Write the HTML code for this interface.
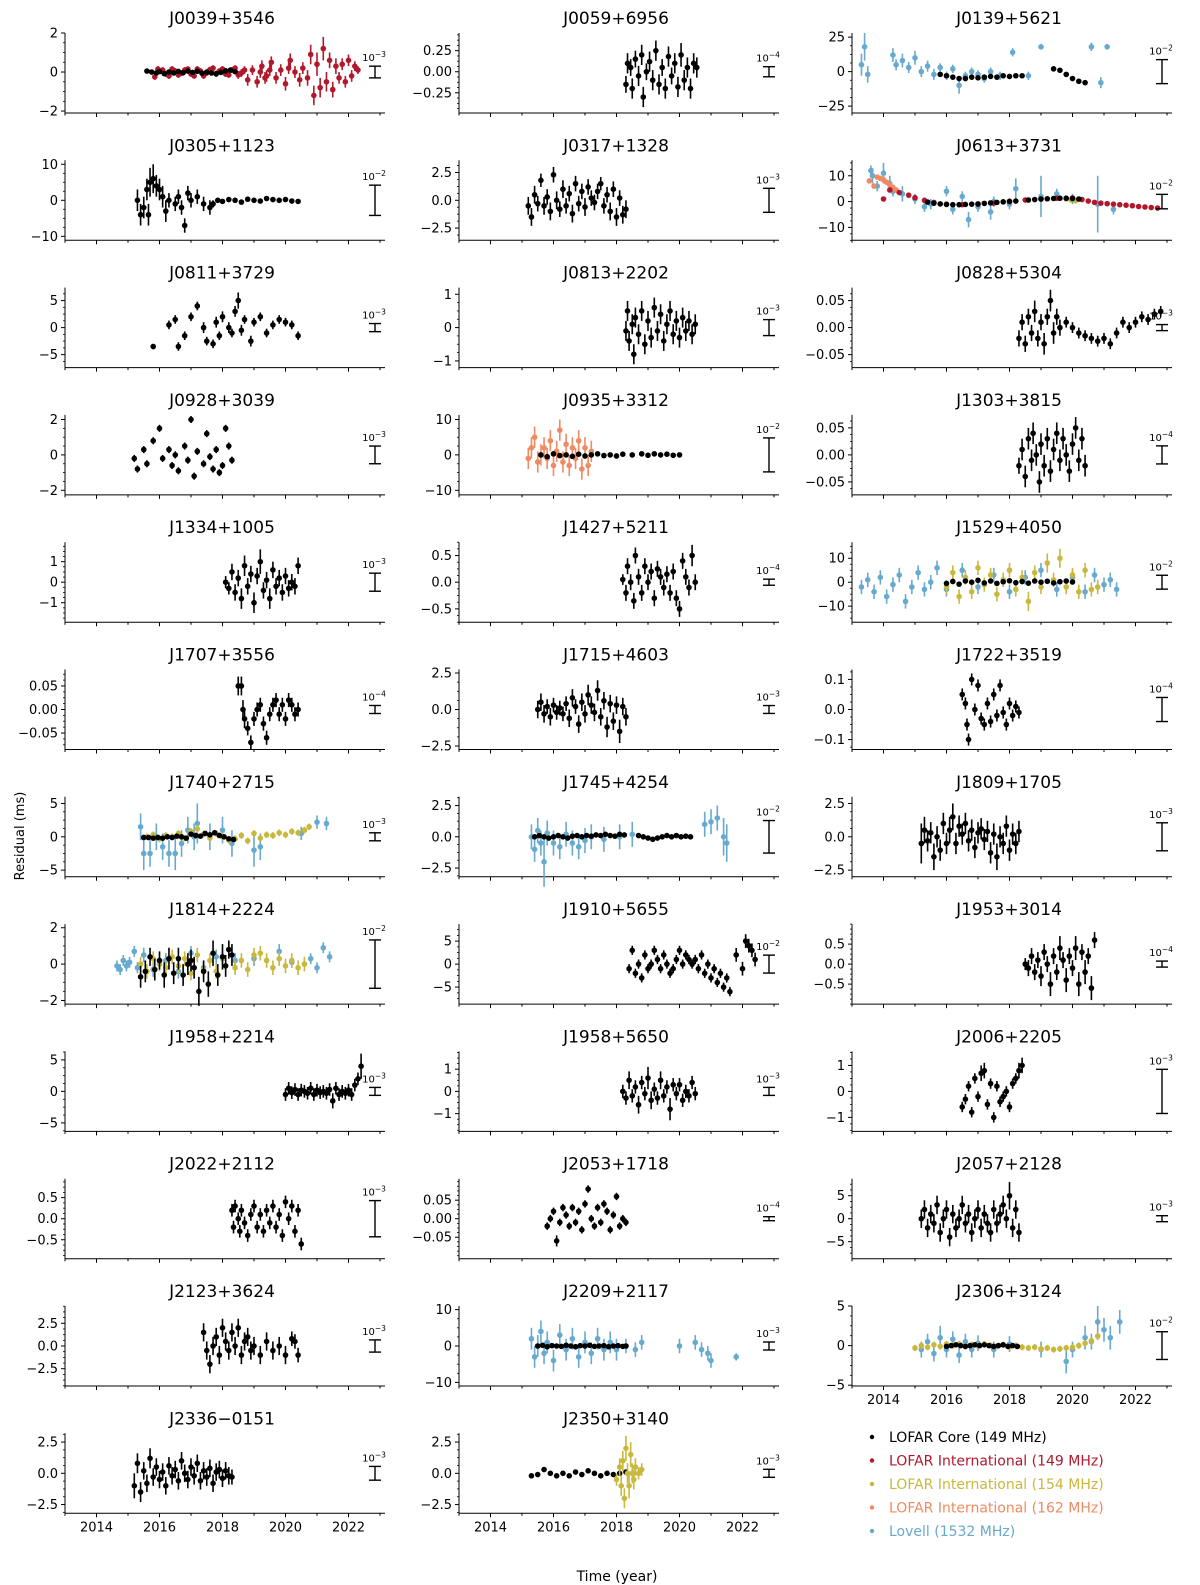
<!DOCTYPE html>
<html><head><meta charset="utf-8">
<style>
html,body{margin:0;padding:0;background:#fff;}
svg{display:block;font-family:"DejaVu Sans","Liberation Sans",sans-serif;}
</style></head>
<body>
<svg id="fig" width="1200" height="1585" viewBox="0 0 1200 1585" xmlns="http://www.w3.org/2000/svg">
<text x="24" y="836" font-size="13" text-anchor="middle" transform="rotate(-90 24 836)">Residual (ms)</text>
<text x="617" y="1581" font-size="14" text-anchor="middle">Time (year)</text>
<g font-size="14">
<g><circle cx="872" cy="1437" r="2.2" fill="#000"/><text x="889" y="1442" fill="#000">LOFAR Core (149 MHz)</text></g>
<g><circle cx="872" cy="1460.5" r="2.2" fill="#b2182b"/><text x="889" y="1465.5" fill="#b2182b">LOFAR International (149 MHz)</text></g>
<g><circle cx="872" cy="1484" r="2.2" fill="#c9b83e"/><text x="889" y="1489" fill="#c9b83e">LOFAR International (154 MHz)</text></g>
<g><circle cx="872" cy="1507.5" r="2.2" fill="#ef8a62"/><text x="889" y="1512.5" fill="#ef8a62">LOFAR International (162 MHz)</text></g>
<g><circle cx="872" cy="1531" r="2.2" fill="#67a9cf"/><text x="889" y="1536" fill="#67a9cf">Lovell (1532 MHz)</text></g>
</g>
</svg>
<script>
const panelNames=["J0039+3546","J0059+6956","J0139+5621","J0305+1123","J0317+1328","J0613+3731","J0811+3729","J0813+2202","J0828+5304","J0928+3039","J0935+3312","J1303+3815","J1334+1005","J1427+5211","J1529+4050","J1707+3556","J1715+4603","J1722+3519","J1740+2715","J1745+4254","J1809+1705","J1814+2224","J1910+5655","J1953+3014","J1958+2214","J1958+5650","J2006+2205","J2022+2112","J2053+1718","J2057+2128","J2123+3624","J2209+2117","J2306+3124","J2336\u22120151","J2350+3140"];
const yMins=[-2.1,-0.49,-30,-11.1,-3.6,-15,-7.4,-1.2,-0.074,-2.26,-11.3,-0.074,-1.95,-0.75,-16.7,-0.085,-2.74,-0.133,-6,-3.2,-3,-2.2,-8.7,-1,-6.35,-1.8,-1.54,-0.95,-0.108,-8.7,-4.4,-11,-5.1,-3.2,-3.2];
const yMaxs=[2.0,0.46,28,11.1,3.6,16,7.4,1.2,0.074,2.26,11.3,0.074,1.95,0.75,16.7,0.085,2.74,0.133,6,3.2,3,2.2,8.7,1,6.35,1.8,1.54,0.95,0.108,8.7,4.4,11,5,3.2,3.2];
const yTickVals=[[-2,0,2],[-0.25,0,0.25],[-25,0,25],[-10,0,10],[-2.5,0,2.5],[-10,0,10],[-5,0,5],[-1,0,1],[-0.05,0,0.05],[-2,0,2],[-10,0,10],[-0.05,0,0.05],[-1,0,1],[-0.5,0,0.5],[-10,0,10],[-0.05,0,0.05],[-2.5,0,2.5],[-0.1,0,0.1],[-5,0,5],[-2.5,0,2.5],[-2.5,0,2.5],[-2,0,2],[-5,0,5],[-0.5,0,0.5],[-5,0,5],[-1,0,1],[-1,0,1],[-0.5,0,0.5],[-0.05,0,0.05],[-5,0,5],[-2.5,0,2.5],[-10,0,10],[-5,0,5],[-2.5,0,2.5],[-2.5,0,2.5]];
const yTickLabels=[["\u22122","0","2"],["\u22120.25","0.00","0.25"],["\u221225","0","25"],["\u221210","0","10"],["\u22122.5","0.0","2.5"],["\u221210","0","10"],["\u22125","0","5"],["\u22121","0","1"],["\u22120.05","0.00","0.05"],["\u22122","0","2"],["\u221210","0","10"],["\u22120.05","0.00","0.05"],["\u22121","0","1"],["\u22120.5","0.0","0.5"],["\u221210","0","10"],["\u22120.05","0.00","0.05"],["\u22122.5","0.0","2.5"],["\u22120.1","0.0","0.1"],["\u22125","0","5"],["\u22122.5","0.0","2.5"],["\u22122.5","0.0","2.5"],["\u22122","0","2"],["\u22125","0","5"],["\u22120.5","0.0","0.5"],["\u22125","0","5"],["\u22121","0","1"],["\u22121","0","1"],["\u22120.5","0.0","0.5"],["\u22120.05","0.00","0.05"],["\u22125","0","5"],["\u22122.5","0.0","2.5"],["\u221210","0","10"],["\u22125","0","5"],["\u22122.5","0.0","2.5"],["\u22122.5","0.0","2.5"]];
const barExps=["\u22123","\u22124","\u22122","\u22122","\u22123","\u22122","\u22123","\u22123","\u22123","\u22123","\u22122","\u22124","\u22123","\u22124","\u22122","\u22124","\u22123","\u22124","\u22123","\u22122","\u22123","\u22122","\u22122","\u22124","\u22123","\u22123","\u22123","\u22123","\u22124","\u22123","\u22123","\u22123","\u22122","\u22123","\u22123"];
const barHalfVals=[0.3,0.06,8.7,4.2,1.08,2.8,0.75,0.24,0.0056,0.5,4.8,0.0167,0.44,0.057,2.9,0.0085,0.27,0.04,0.6,1.3,1.05,1.33,1.95,0.075,0.63,0.18,0.85,0.43,0.0054,0.65,0.67,1.1,1.75,0.55,0.32];
const yearTicks=[2013,2014,2015,2016,2017,2018,2019,2020,2021,2022,2023];
const yearLabels=["","2014","","2016","","2018","","2020","","2022",""];

const d_J0039_core=[[2015.6,0.05,.08],[2015.75,0,.08],[2015.9,-0.05,.08],[2016.0,0.02,.08],[2016.15,-0.08,.08],[2016.3,0,.08],[2016.45,-0.05,.08],[2016.6,0.03,.08],[2016.75,-0.04,.08],[2016.9,0.05,.08],[2017.05,-0.02,.08],[2017.2,0.04,.08],[2017.35,-0.06,.08],[2017.5,0,.08],[2017.65,-0.05,.08],[2017.8,-0.08,.08],[2017.95,-0.02,.08],[2018.1,0.06,.08],[2018.25,0.1,.08],[2018.4,0.02,.08]];
const d_J0039_red=[[2015.85,-0.25,.15],[2015.95,0.15,.15],[2016.1,0.1,.15],[2016.2,-0.1,.15],[2016.3,-0.2,.15],[2016.4,0.15,.15],[2016.5,0.05,.15],[2016.6,-0.15,.15],[2016.7,-0.05,.15],[2016.8,0.1,.15],[2016.9,0.15,.15],[2017.0,-0.1,.15],[2017.1,-0.2,.15],[2017.2,0.15,.15],[2017.3,0.05,.15],[2017.4,-0.2,.15],[2017.5,-0.05,.15],[2017.6,0.12,.15],[2017.7,0.2,.15],[2017.8,-0.1,.15],[2017.9,0.05,.15],[2018.0,0.15,.15],[2018.1,-0.1,.15],[2018.2,-0.15,.15],[2018.3,0.1,.15],[2018.4,0.2,.15],[2018.5,-0.15,.2],[2018.6,-0.05,.2],[2018.7,0.1,.2],[2018.8,-0.4,.3],[2018.95,0.1,.25],[2019.1,-0.5,.3],[2019.2,0,.3],[2019.25,0.3,.3],[2019.35,-0.3,.3],[2019.4,-0.2,.3],[2019.5,0.1,.3],[2019.55,0.5,.3],[2019.7,-0.3,.3],[2019.85,0.1,.3],[2020.0,-0.6,.35],[2020.1,0.2,.3],[2020.15,0.6,.35],[2020.3,0,.3],[2020.45,-0.4,.35],[2020.55,0.2,.3],[2020.7,-0.3,.4],[2020.8,0.9,.5],[2020.9,-1.2,.5],[2021.0,0.4,.6],[2021.1,-0.8,.5],[2021.2,1.2,.6],[2021.3,-0.5,.5],[2021.4,0.6,.4],[2021.5,-0.9,.4],[2021.6,0.3,.4],[2021.7,-0.3,.3],[2021.8,0.4,.3],[2021.9,-0.5,.3],[2022.0,0.6,.3],[2022.1,-0.2,.3],[2022.2,0.3,.25],[2022.3,0.1,.2]];
const d_J0059_core=[[2018.3,-0.15,.1],[2018.35,0.1,.12],[2018.45,0.05,.1],[2018.5,-0.2,.12],[2018.6,0.15,.1],[2018.7,-0.05,.12],[2018.8,0.2,.12],[2018.85,-0.3,.12],[2018.95,0,.1],[2019.05,0.12,.12],[2019.15,-0.1,.12],[2019.25,0.25,.12],[2019.35,-0.15,.12],[2019.45,0.05,.1],[2019.55,-0.2,.12],[2019.65,0.18,.12],[2019.75,-0.05,.1],[2019.85,0.1,.12],[2019.95,-0.18,.12],[2020.05,0.2,.14],[2020.15,-0.1,.12],[2020.25,0.05,.12],[2020.35,-0.2,.12],[2020.45,0.1,.12],[2020.55,0.05,.12]];
const d_J0139_lovell=[[2013.3,5,8],[2013.4,18,10],[2013.5,-2,6],[2014.3,12,5],[2014.4,5,4],[2014.6,8,5],[2014.8,3,4],[2015.0,10,5],[2015.2,0,4],[2015.4,4,4],[2015.6,-2,4],[2015.8,3,3],[2016.0,-3,3],[2016.2,2,3],[2016.4,-10,6],[2016.6,-3,3],[2016.8,0,3],[2017.0,-2,3],[2017.2,-5,3],[2017.4,0,3],[2017.7,-3,3],[2018.1,14,3],[2018.6,-3,3],[2019.0,18,2],[2020.6,18,3],[2020.9,-8,4],[2021.1,18,2]];
const d_J0139_core=[[2015.8,-2,1],[2016.0,-3,1],[2016.2,-4,1],[2016.4,-5,1],[2016.6,-5,1],[2016.8,-4,1],[2017.0,-4.5,1],[2017.2,-4,1],[2017.4,-3.5,1],[2017.6,-4,1],[2017.8,-3,1],[2018.0,-3.5,1],[2018.2,-3,1],[2018.4,-3,1],[2019.4,2,1],[2019.6,1,1],[2019.8,-2,1],[2020.0,-5,1],[2020.2,-7,1],[2020.4,-8,1]];
const d_J0305_core=[[2015.3,0,3],[2015.4,-4,3],[2015.5,-2,3],[2015.6,3,3],[2015.65,-4,3],[2015.7,5,4],[2015.8,6,4],[2015.9,4,3],[2016.0,3,3],[2016.1,1,3],[2016.2,-3,3],[2016.3,0,2],[2016.5,-1,2],[2016.6,1,2],[2016.7,-2,2],[2016.8,-7,2],[2016.9,2,2],[2017.0,0,2],[2017.2,1,2],[2017.4,-1,2],[2017.6,-2,2],[2017.7,-1,1],[2017.85,0,.6],[2018.0,-0.3,.6],[2018.2,0.2,.6],[2018.4,0,.6],[2018.6,-0.5,.6],[2018.8,0.3,.6],[2019.0,0,.6],[2019.2,-0.2,.6],[2019.4,0.5,.6],[2019.6,0.2,.6],[2019.8,0,.6],[2020.0,0.2,.6],[2020.2,-0.2,.6],[2020.4,-0.3,.6]];
const d_J0317_core=[[2015.2,-0.5,.8],[2015.3,-1.5,.8],[2015.4,0.5,.8],[2015.5,-0.3,.7],[2015.6,1.8,.6],[2015.7,-0.5,.8],[2015.8,0.3,.7],[2015.9,-1,.8],[2016.0,2.3,.7],[2016.1,0,.8],[2016.2,-0.8,.7],[2016.3,1,.8],[2016.4,-0.5,.7],[2016.5,0.6,.7],[2016.6,-1.2,.8],[2016.7,1.5,.7],[2016.8,-0.3,.7],[2016.9,0.8,.7],[2017.0,-0.6,.8],[2017.1,1.2,.7],[2017.2,0.2,.7],[2017.3,-0.2,.7],[2017.4,0.8,.7],[2017.5,1.5,.6],[2017.6,-0.5,.7],[2017.7,0.5,.7],[2017.8,-1,.8],[2017.9,1,.7],[2018.0,-1.5,.8],[2018.1,0.2,.7],[2018.2,-1.3,.8],[2018.3,-0.8,.8]];
const d_J0613_lovell=[[2013.6,12,2],[2013.65,10,3],[2013.8,6,2],[2014.0,11,4],[2014.2,7,3],[2014.3,4,2],[2014.6,3,3],[2015.0,1,2],[2015.3,-2,2],[2015.5,-1,2],[2016.0,4,2],[2016.2,-3,2],[2016.5,2,2],[2016.7,-7,3],[2017.0,-2,2],[2017.4,-4,3],[2017.5,0,2],[2018.0,-1,2],[2018.2,5,4],[2019.0,2,8],[2019.5,3,2],[2020.0,1,2],[2020.8,-1,11],[2021.3,-3,2]];
const d_J0613_i162=[[2013.55,8,1],[2013.7,6,1],[2013.8,9.5,1],[2013.9,9,1],[2014.0,8.5,1],[2014.1,7.5,1],[2014.2,6.5,1],[2014.3,5.5,1],[2014.4,4.5,1]];
const d_J0613_i149=[[2014.0,1,.4],[2014.2,4.5,.4],[2014.5,3.5,.4],[2014.8,2.5,.4],[2015.0,1.5,.4],[2015.3,0.5,.4],[2015.6,-0.3,.4],[2016.0,-1,.4],[2016.5,-1.2,.4],[2017.0,-1,.4],[2017.5,-0.6,.4],[2018.0,0,.4],[2018.5,0.6,.4],[2019.0,1,.4],[2019.5,1.3,.4],[2020.0,1.4,.4],[2020.3,0.8,.4],[2020.5,0.2,.4],[2020.7,-0.3,.4],[2020.9,-0.6,.4],[2021.1,-0.8,.4],[2021.3,-1.0,.4],[2021.5,-1.2,.4],[2021.7,-1.4,.4],[2021.9,-1.6,.4],[2022.1,-1.9,.4],[2022.3,-2.1,.4],[2022.5,-2.3,.4],[2022.7,-2.5,.4]];
const d_J0613_i154=[[2019.8,1,.4],[2019.95,0.7,.4],[2020.1,0.3,.4]];
const d_J0613_core=[[2015.4,-0.2,.3],[2015.6,-0.6,.3],[2015.8,-0.9,.3],[2016.0,-1.1,.3],[2016.2,-1.2,.3],[2016.4,-1.2,.3],[2016.6,-1.1,.3],[2016.8,-1.0,.3],[2017.0,-0.9,.3],[2017.2,-0.7,.3],[2017.4,-0.5,.3],[2017.6,-0.3,.3],[2017.8,-0.1,.3],[2018.0,0.1,.3],[2018.2,0.2,.3],[2018.6,0.6,.3],[2018.8,0.8,.3],[2019.0,1.0,.3],[2019.2,1.1,.3],[2019.4,1.2,.3],[2019.6,1.3,.3],[2019.8,1.3,.3],[2020.0,1.2,.3],[2020.2,1.0,.3]];
const d_J0811_core=[[2015.8,-3.5,.5],[2016.3,0.5,.8],[2016.5,1.5,.8],[2016.6,-3.5,.8],[2016.8,-1.5,.8],[2017.0,2,.8],[2017.2,4,.8],[2017.4,0,1],[2017.5,-2.5,.8],[2017.7,-3,.8],[2017.8,1,1],[2017.9,-1.5,.8],[2018.0,2,1],[2018.2,0,1],[2018.3,-1,.8],[2018.4,3,1],[2018.5,5,1.5],[2018.6,-0.5,1],[2018.7,1.5,.8],[2018.9,-2.5,1],[2019.0,1,.8],[2019.2,2,.8],[2019.4,-1,.8],[2019.6,0.5,.8],[2019.8,1.5,.8],[2020.0,1,.8],[2020.2,0.5,.8],[2020.4,-1.5,.8]];
const d_J0813_core=[[2018.3,-0.1,.3],[2018.35,0.5,.3],[2018.4,-0.4,.3],[2018.5,0.1,.3],[2018.55,-0.8,.3],[2018.6,0.3,.3],[2018.7,-0.2,.3],[2018.8,0.5,.3],[2018.9,-0.5,.3],[2019.0,0.2,.3],[2019.1,-0.3,.3],[2019.2,0.6,.3],[2019.3,-0.1,.3],[2019.4,0.4,.3],[2019.5,-0.4,.3],[2019.6,0.1,.3],[2019.7,0.5,.3],[2019.8,-0.2,.3],[2019.9,0.2,.3],[2020.0,-0.3,.3],[2020.1,0.3,.3],[2020.2,-0.1,.3],[2020.3,0.2,.3],[2020.4,-0.2,.3],[2020.5,0.1,.3]];
const d_J0828_core=[[2018.3,-0.02,.015],[2018.4,0.01,.015],[2018.5,-0.03,.015],[2018.6,0.02,.015],[2018.7,-0.01,.015],[2018.8,0.03,.02],[2018.9,-0.02,.015],[2019.0,0.01,.015],[2019.1,-0.03,.02],[2019.2,0.02,.015],[2019.3,0.05,.02],[2019.4,-0.01,.02],[2019.5,0.02,.015],[2019.6,0.0,.015],[2019.8,0.01,.01],[2020.0,0,.01],[2020.2,-0.01,.01],[2020.4,-0.015,.01],[2020.6,-0.02,.01],[2020.8,-0.025,.01],[2021.0,-0.02,.01],[2021.2,-0.03,.01],[2021.4,-0.01,.01],[2021.6,0.01,.01],[2021.8,0,.01],[2022.0,0.01,.01],[2022.2,0.02,.01],[2022.4,0.015,.01],[2022.6,0.025,.01],[2022.8,0.03,.01]];
const d_J0928_core=[[2015.2,-0.2,.2],[2015.3,-0.8,.2],[2015.5,0.3,.2],[2015.6,-0.5,.2],[2015.8,0.8,.2],[2016.0,1.5,.2],[2016.1,-0.2,.2],[2016.3,0.3,.2],[2016.4,-0.6,.2],[2016.5,0,.2],[2016.6,-0.9,.2],[2016.8,0.5,.2],[2016.9,-0.3,.2],[2017.0,2,.2],[2017.1,-1.2,.2],[2017.2,0.2,.2],[2017.4,-0.5,.2],[2017.5,1.2,.2],[2017.6,-0.1,.2],[2017.7,-0.8,.2],[2017.8,0.3,.2],[2017.9,-1,.2],[2018.0,-0.6,.2],[2018.1,1.5,.2],[2018.2,0.5,.2],[2018.3,-0.3,.2]];
const d_J0935_i162=[[2015.2,-1,3],[2015.3,2,3],[2015.4,5,3],[2015.5,-2,3],[2015.6,0,3],[2015.7,2,3],[2015.8,-1,3],[2015.9,4,3],[2016.0,-3,3],[2016.1,1,3],[2016.2,7,3],[2016.3,-2,3],[2016.4,3,3],[2016.5,-3,3],[2016.6,2,3],[2016.7,-1,3],[2016.8,4,3],[2016.9,-4,3],[2017.0,2,3],[2017.1,-3,3],[2017.2,1,3]];
const d_J0935_core=[[2015.6,0,.5],[2015.8,-0.5,.5],[2016.0,0.3,.5],[2016.2,-0.2,.5],[2016.4,0,.5],[2016.6,-0.4,.5],[2016.8,0.2,.5],[2017.0,-0.3,.5],[2017.2,0,.5],[2017.4,0.3,.5],[2017.6,-0.2,.5],[2017.8,0,.5],[2018.0,-0.3,.5],[2018.2,0.2,.5],[2018.5,0,.5],[2018.8,0.3,.5],[2019.0,-0.1,.5],[2019.2,0.3,.5],[2019.4,0,.5],[2019.6,0.2,.5],[2019.8,-0.1,.5],[2020.0,0,.5]];
const d_J1303_core=[[2018.3,-0.02,.015],[2018.4,0.01,.02],[2018.5,-0.04,.02],[2018.6,0.03,.02],[2018.7,-0.01,.02],[2018.75,0.04,.02],[2018.85,0,.02],[2018.95,-0.05,.02],[2019.0,0.02,.02],[2019.1,-0.02,.02],[2019.2,0.03,.02],[2019.3,-0.03,.02],[2019.4,0.01,.02],[2019.5,0.04,.02],[2019.6,-0.01,.02],[2019.7,0.03,.02],[2019.8,0,.02],[2019.9,-0.03,.02],[2020.0,0.02,.02],[2020.1,0.05,.02],[2020.2,-0.01,.02],[2020.3,0.03,.02],[2020.4,-0.02,.02]];
const d_J1334_core=[[2018.1,0,.3],[2018.2,-0.3,.3],[2018.3,0.5,.4],[2018.4,-0.5,.4],[2018.5,0.2,.4],[2018.6,-0.8,.5],[2018.7,0.8,.5],[2018.8,-0.2,.4],[2018.9,0.4,.4],[2019.0,-1,.5],[2019.1,0.3,.4],[2019.2,1,.6],[2019.3,-0.4,.4],[2019.4,0.1,.4],[2019.5,-0.8,.5],[2019.6,0.6,.4],[2019.7,-0.2,.4],[2019.8,0.2,.4],[2019.9,-0.5,.4],[2020.0,0.3,.4],[2020.1,-0.3,.4],[2020.2,0,.4],[2020.3,-0.2,.4],[2020.4,0.8,.4]];
const d_J1427_core=[[2018.2,0.05,.1],[2018.3,-0.2,.15],[2018.35,0.3,.15],[2018.45,0,.15],[2018.55,-0.35,.15],[2018.6,0.5,.15],[2018.7,0.1,.15],[2018.8,-0.2,.15],[2018.9,0.3,.15],[2019.0,0,.15],[2019.1,0.2,.15],[2019.2,-0.3,.15],[2019.3,0.25,.15],[2019.4,0.1,.15],[2019.5,-0.1,.15],[2019.6,0.15,.15],[2019.7,-0.2,.15],[2019.8,0.2,.15],[2019.9,-0.3,.15],[2020.0,-0.5,.15],[2020.1,0.4,.15],[2020.2,0.1,.15],[2020.3,-0.1,.15],[2020.4,0.5,.2],[2020.5,0,.15]];
const d_J1529_lovell=[[2013.3,-2,3],[2013.5,1,3],[2013.7,-4,3],[2013.9,2,3],[2014.1,-6,3],[2014.3,-1,3],[2014.5,3,3],[2014.7,-8,3],[2014.9,-2,3],[2015.1,4,3],[2015.3,-3,3],[2015.5,0,3],[2015.7,6,3],[2016.0,-3,3],[2016.5,5,3],[2017.0,-2,3],[2017.5,3,3],[2018.0,-4,3],[2018.5,2,3],[2019.0,5,3],[2019.5,-3,3],[2020.0,2,3],[2020.4,-4,3],[2020.7,3,3],[2021.0,-1,3],[2021.2,1,3],[2021.4,-3,3]];
const d_J1529_i154=[[2016.0,-2,3],[2016.2,4,3],[2016.4,-6,3],[2016.6,2,3],[2016.8,-4,3],[2017.0,6,3],[2017.2,-1,3],[2017.4,3,3],[2017.6,-5,3],[2017.8,1,3],[2018.0,5,3],[2018.2,-3,3],[2018.4,2,3],[2018.6,-8,4],[2018.8,4,3],[2019.0,-2,3],[2019.2,8,4],[2019.4,1,3],[2019.6,10,4],[2019.8,-2,3],[2020.0,3,3],[2020.2,-4,3],[2020.4,5,3],[2020.6,-3,3],[2020.8,-2,3]];
const d_J1529_core=[[2016.0,-0.5,1],[2016.2,0.3,1],[2016.4,-0.8,1],[2016.6,0.5,1],[2016.8,0,1],[2017.0,0.8,1],[2017.2,-0.3,1],[2017.4,0.5,1],[2017.6,-0.5,1],[2017.8,0.2,1],[2018.0,0.6,1],[2018.2,-0.2,1],[2018.4,0.3,1],[2018.6,-0.4,1],[2018.8,0.5,1],[2019.0,0,1],[2019.2,0.4,1],[2019.4,-0.3,1],[2019.6,0.2,1],[2019.8,0.5,1],[2020.0,0.1,1]];
const d_J1707_core=[[2018.5,0.05,.02],[2018.6,0.05,.02],[2018.65,0,.02],[2018.7,-0.02,.02],[2018.8,-0.04,.015],[2018.9,-0.07,.015],[2019.0,-0.02,.015],[2019.1,0,.015],[2019.2,0.01,.015],[2019.3,-0.03,.015],[2019.4,-0.06,.015],[2019.5,-0.01,.015],[2019.6,0.01,.015],[2019.7,0.02,.015],[2019.8,-0.01,.015],[2019.9,0.01,.015],[2020.0,-0.02,.015],[2020.1,0.02,.015],[2020.2,0.01,.015],[2020.3,-0.01,.015],[2020.4,0,.015]];
const d_J1715_core=[[2015.5,0,.6],[2015.6,0.5,.6],[2015.7,-0.3,.6],[2015.8,0.2,.5],[2015.9,-0.5,.6],[2016.0,0.3,.5],[2016.1,-0.2,.5],[2016.2,0.1,.5],[2016.3,-0.3,.5],[2016.4,0.4,.5],[2016.5,-0.6,.6],[2016.6,0.8,.6],[2016.7,0.2,.5],[2016.8,-1,.6],[2016.9,0.5,.6],[2017.0,-0.3,.6],[2017.1,1,.7],[2017.2,0.3,.6],[2017.3,-0.2,.6],[2017.4,1.3,.7],[2017.5,-0.5,.6],[2017.6,0.6,.6],[2017.7,-1.2,.7],[2017.8,0.4,.6],[2017.9,-0.8,.6],[2018.0,0.3,.6],[2018.1,-1.5,.8],[2018.2,0.2,.6],[2018.3,-0.5,.6]];
const d_J1722_core=[[2016.5,0.05,.02],[2016.6,0.02,.02],[2016.65,-0.05,.02],[2016.7,-0.1,.02],[2016.8,0.1,.02],[2016.9,0,.02],[2017.0,0.08,.02],[2017.1,-0.03,.02],[2017.2,-0.05,.02],[2017.3,0.02,.02],[2017.4,-0.04,.02],[2017.5,0.05,.02],[2017.6,-0.02,.02],[2017.7,0.08,.02],[2017.8,-0.01,.02],[2017.9,-0.05,.02],[2018.0,0.02,.02],[2018.1,-0.02,.02],[2018.2,0.01,.02],[2018.3,-0.01,.02]];
const d_J1740_lovell=[[2015.4,1.5,2],[2015.5,-2.5,2.5],[2015.7,-2.5,2],[2015.9,0,2],[2016.1,-1.5,2],[2016.3,-2.5,2],[2016.5,-2.5,2.5],[2016.7,-1,2],[2016.9,1,2],[2017.1,0,2],[2017.2,2,3],[2017.6,0,2],[2018.0,1,2],[2018.3,-1,2],[2019.0,-2,2.5],[2019.2,-1.5,2],[2020.5,0.5,1],[2021.0,2.2,1],[2021.3,2,1]];
const d_J1740_i154=[[2015.6,0,.5],[2015.8,0.3,.5],[2016.0,-0.3,.5],[2016.2,0.2,.5],[2016.4,0,.5],[2016.6,0.5,.5],[2016.8,-0.2,.5],[2017.0,0.8,.5],[2017.2,1.2,.6],[2017.4,0.4,.5],[2017.6,-0.2,.5],[2017.8,0.5,.5],[2018.0,0,.5],[2018.2,-0.5,.5],[2018.4,-0.3,.5],[2018.6,0.2,.5],[2018.8,-0.6,.5],[2019.0,0.5,.5],[2019.2,-0.2,.5],[2019.4,0.3,.5],[2019.6,0.2,.5],[2019.8,0.6,.5],[2020.0,0.3,.5],[2020.2,0.8,.5],[2020.4,0.6,.5],[2020.6,1,.5],[2020.75,1.5,.5]];
const d_J1740_core=[[2015.5,-0.1,.2],[2015.65,-0.1,.2],[2015.8,-0.2,.2],[2015.95,-0.1,.2],[2016.1,-0.2,.2],[2016.25,0,.2],[2016.4,-0.1,.2],[2016.55,0.1,.2],[2016.7,0,.2],[2016.85,-0.2,.2],[2017.0,0.4,.2],[2017.15,0.2,.2],[2017.3,0.1,.2],[2017.45,0.5,.2],[2017.6,0.3,.2],[2017.75,0.6,.2],[2017.9,0.2,.2],[2018.05,0,.2],[2018.2,-0.3,.2],[2018.35,-0.4,.2]];
const d_J1745_lovell=[[2015.3,0,1],[2015.4,-1,1],[2015.5,0.5,1],[2015.6,-0.5,1],[2015.7,-2,2],[2015.8,0.3,1],[2016.0,-0.5,1],[2016.2,-0.8,1],[2016.4,0.2,1],[2016.6,-0.5,1],[2016.8,-0.8,1],[2017.0,-0.3,1],[2017.2,0,1],[2017.6,-0.2,1],[2018.1,0,1],[2018.5,0.2,1],[2020.8,1,1],[2021.0,1.2,1],[2021.2,1.5,1],[2021.4,0,1.5],[2021.5,-0.5,1.5]];
const d_J1745_core=[[2015.4,0,.15],[2015.55,0.1,.15],[2015.7,0,.15],[2015.85,-0.1,.15],[2016.0,0,.15],[2016.15,0.1,.15],[2016.3,0,.15],[2016.45,-0.1,.15],[2016.6,0.05,.15],[2016.75,0.1,.15],[2016.9,0,.15],[2017.05,0.1,.15],[2017.2,0.05,.15],[2017.35,0.15,.15],[2017.5,0.1,.15],[2017.65,0.2,.15],[2017.8,0.1,.15],[2017.95,0.05,.15],[2018.1,0.2,.15],[2018.25,0.15,.15],[2018.7,0.1,.15],[2018.85,0,.15],[2019.0,-0.1,.15],[2019.15,-0.2,.15],[2019.3,-0.1,.15],[2019.45,0,.15],[2019.6,0.1,.15],[2019.75,0,.15],[2019.9,0.1,.15],[2020.05,0,.15],[2020.2,0.05,.15],[2020.35,0,.15]];
const d_J1809_core=[[2015.2,-0.5,1.5],[2015.3,0.5,1],[2015.4,-0.3,.8],[2015.5,0.3,.8],[2015.6,-1.5,1],[2015.7,0,.8],[2015.8,-1,.8],[2015.9,1,.8],[2016.0,-0.5,.8],[2016.1,0.5,1],[2016.2,1.5,1],[2016.3,-0.5,.8],[2016.4,0.8,.8],[2016.5,0.2,.8],[2016.6,1,.8],[2016.7,-0.3,.8],[2016.8,0.5,.8],[2016.9,-0.8,.8],[2017.0,0.3,.8],[2017.1,0.6,.8],[2017.2,-0.2,.8],[2017.3,0.4,.8],[2017.4,-1.2,.8],[2017.5,0.2,.8],[2017.6,-1.5,1],[2017.7,0,.8],[2017.8,-0.5,.8],[2017.9,0.8,.8],[2018.0,-1,.8],[2018.1,0.2,.8],[2018.2,-0.5,.8],[2018.3,0.4,.8]];
const d_J1814_lovell=[[2014.65,-0.1,.3],[2014.75,-0.3,.3],[2014.85,0.2,.3],[2014.95,-0.1,.3],[2015.05,0.1,.3],[2015.2,0.7,.3],[2015.3,-0.2,.3],[2015.5,0.5,.4],[2015.8,-0.3,.4],[2016.2,0.2,.4],[2016.6,-0.4,.4],[2017.0,0.6,.4],[2017.4,-0.2,.4],[2017.8,0.4,.4],[2018.4,0.2,.4],[2019.0,0.3,.4],[2019.8,0.7,.4],[2020.2,0.1,.3],[2020.8,0.3,.3],[2021.0,-0.2,.3],[2021.2,0.9,.3],[2021.4,0.4,.3]];
const d_J1814_i154=[[2015.4,0,.4],[2015.6,-0.4,.4],[2015.8,0.3,.4],[2016.0,0,.4],[2016.2,-0.2,.4],[2016.4,0.4,.4],[2016.6,-0.1,.4],[2016.8,0.3,.4],[2017.0,-0.5,.4],[2017.2,0.5,.4],[2017.4,-0.3,.4],[2017.6,0.2,.4],[2017.8,-0.4,.4],[2018.0,0.3,.4],[2018.2,0.8,.4],[2018.4,-0.2,.4],[2018.6,0.2,.4],[2018.8,-0.3,.4],[2019.0,0.5,.4],[2019.2,0.6,.4],[2019.4,0.2,.4],[2019.6,-0.2,.4],[2019.8,0.3,.4],[2020.0,-0.1,.4],[2020.2,0.2,.4],[2020.4,-0.2,.4],[2020.6,0,.4]];
const d_J1814_core=[[2015.4,-0.7,.6],[2015.55,-0.4,.6],[2015.7,0.4,.5],[2015.85,-0.3,.6],[2016.0,0.2,.5],[2016.15,-0.6,.7],[2016.3,0.3,.6],[2016.45,-0.5,.6],[2016.6,0.3,.6],[2016.75,-0.6,.6],[2016.9,0,.6],[2017.0,0.2,.6],[2017.1,-0.2,.6],[2017.25,-1.5,.8],[2017.4,-0.4,.6],[2017.55,-1.1,.7],[2017.7,0.6,.7],[2017.85,-0.6,.6],[2018.0,0.4,.7],[2018.1,-0.1,.6],[2018.2,0.8,.5],[2018.3,0.5,.6]];
const d_J1910_core=[[2018.4,-1,1],[2018.5,3,1],[2018.6,-2,1],[2018.7,0,1],[2018.8,-3,1],[2018.9,2,1],[2019.0,-1,1],[2019.1,0,1],[2019.2,3,1],[2019.3,1,1],[2019.4,-1,1],[2019.5,2,1],[2019.6,0,1],[2019.7,-2,1],[2019.8,-1,1],[2019.9,1,1],[2020.0,3,1],[2020.1,0,1],[2020.2,2,1],[2020.3,1,1],[2020.4,0,1],[2020.5,1,1],[2020.6,-1,1],[2020.7,2,1],[2020.8,-2,1],[2020.9,0,1],[2021.0,-3,1],[2021.1,-1,1],[2021.2,-4,1],[2021.3,-2,1],[2021.4,-5,1],[2021.5,-3,1],[2021.6,-6,1],[2021.8,2,1.5],[2022.0,-1,1.5],[2022.1,5,1.5],[2022.2,4,1.5],[2022.3,3,1.5],[2022.4,1,1.5]];
const d_J1953_core=[[2018.5,0,.15],[2018.6,-0.1,.2],[2018.7,0.2,.2],[2018.8,-0.2,.2],[2018.9,0.1,.2],[2019.0,-0.3,.25],[2019.1,0.3,.2],[2019.2,0,.2],[2019.3,-0.5,.3],[2019.4,0.2,.2],[2019.5,-0.2,.2],[2019.6,0.4,.3],[2019.7,0.1,.2],[2019.8,-0.4,.3],[2019.9,0.2,.2],[2020.0,-0.1,.2],[2020.1,0.4,.3],[2020.2,-0.5,.3],[2020.3,0.3,.2],[2020.4,-0.2,.3],[2020.5,0.2,.2],[2020.6,-0.6,.3],[2020.7,0.6,.2]];
const d_J1958a_core=[[2020.0,-0.5,1],[2020.1,0.5,1],[2020.2,-0.2,1],[2020.3,0.3,1],[2020.4,-0.5,1],[2020.5,0.2,1],[2020.6,0,1],[2020.7,-0.3,1],[2020.8,0.5,1],[2020.9,-0.5,1],[2021.0,0.2,1],[2021.1,-0.2,1],[2021.2,0,1],[2021.3,-0.3,1],[2021.4,0.3,1],[2021.5,-1.5,1.2],[2021.6,0.5,1],[2021.7,-0.5,1],[2021.8,0,1],[2021.9,-0.3,1],[2022.0,0.2,1],[2022.1,-0.5,1],[2022.2,1,1],[2022.3,2,1],[2022.4,4,2]];
const d_J1958b_core=[[2018.2,0,.3],[2018.3,-0.3,.3],[2018.4,0.5,.4],[2018.5,-0.2,.3],[2018.6,0.2,.3],[2018.7,-0.6,.4],[2018.8,0.4,.3],[2018.9,-0.1,.3],[2019.0,0.6,.5],[2019.1,-0.4,.4],[2019.2,0.1,.3],[2019.3,-0.3,.3],[2019.4,0.5,.4],[2019.5,-0.2,.3],[2019.6,0.2,.3],[2019.7,-0.8,.5],[2019.8,0.3,.3],[2019.9,-0.1,.3],[2020.0,0.3,.3],[2020.1,-0.4,.3],[2020.2,0,.3],[2020.3,-0.2,.3],[2020.4,0.4,.3],[2020.5,-0.1,.3]];
const d_J2006_core=[[2016.5,-0.6,.2],[2016.6,-0.3,.2],[2016.7,0.2,.2],[2016.8,-0.8,.2],[2016.9,0.5,.2],[2017.0,-0.2,.2],[2017.1,0.7,.3],[2017.2,0.8,.3],[2017.3,-0.5,.2],[2017.4,0.3,.2],[2017.5,-1,.2],[2017.6,0.2,.2],[2017.7,-0.4,.2],[2017.8,-0.2,.2],[2017.9,0,.2],[2018.0,-0.6,.2],[2018.1,0.3,.2],[2018.2,0.5,.2],[2018.3,0.8,.3],[2018.4,1,.3]];
const d_J2022_core=[[2018.3,0.2,.15],[2018.35,-0.2,.15],[2018.4,0.3,.15],[2018.5,0,.15],[2018.55,-0.3,.15],[2018.6,0.2,.15],[2018.7,-0.1,.15],[2018.8,-0.4,.15],[2018.9,0.1,.15],[2019.0,0.3,.15],[2019.1,-0.2,.15],[2019.2,0.1,.15],[2019.3,-0.3,.15],[2019.4,0.2,.15],[2019.5,-0.1,.15],[2019.6,0.3,.15],[2019.7,-0.2,.15],[2019.8,0.1,.15],[2019.9,-0.4,.15],[2020.0,0.4,.15],[2020.1,0,.15],[2020.2,0.3,.15],[2020.3,-0.3,.15],[2020.4,0.2,.15],[2020.5,-0.6,.15]];
const d_J2053_core=[[2015.8,-0.02,.01],[2015.9,0,.01],[2016.0,0.02,.01],[2016.1,-0.06,.015],[2016.2,-0.01,.01],[2016.3,0.03,.01],[2016.4,0.01,.01],[2016.5,-0.02,.01],[2016.6,0.03,.01],[2016.7,-0.01,.01],[2016.8,0.02,.01],[2016.9,-0.03,.01],[2017.0,0.04,.01],[2017.1,0.08,.01],[2017.2,0,.01],[2017.3,-0.02,.01],[2017.4,0.03,.01],[2017.5,-0.01,.01],[2017.6,0.04,.01],[2017.7,0.02,.01],[2017.8,-0.03,.01],[2017.9,0.01,.01],[2018.0,0.06,.01],[2018.1,-0.02,.01],[2018.2,0,.01],[2018.3,-0.01,.01]];
const d_J2057_core=[[2015.2,0,2],[2015.3,2,2],[2015.4,-2,2],[2015.5,1,2],[2015.6,-1,2],[2015.7,3,2],[2015.8,-3,2],[2015.9,0,2],[2016.0,2,2],[2016.1,-4,2],[2016.2,1,2],[2016.3,-2,2],[2016.4,0,2],[2016.5,3,2],[2016.6,-1,2],[2016.7,1,2],[2016.8,-3,2],[2016.9,0,2],[2017.0,2,2],[2017.1,-2,2],[2017.2,1,2],[2017.3,-1,2],[2017.4,-3,2],[2017.5,2,2],[2017.6,-1,2],[2017.7,1,2],[2017.8,3,2],[2017.9,0,2],[2018.0,5,3],[2018.1,-2,2],[2018.2,2,2],[2018.3,-3,2]];
const d_J2123_core=[[2017.4,1.5,1],[2017.5,-0.5,1],[2017.6,-2,1],[2017.7,0,1],[2017.8,1,1],[2017.9,-1,1],[2018.0,2,1],[2018.1,0.5,1],[2018.2,-0.5,1],[2018.3,1.5,1],[2018.4,0,1],[2018.5,2,1],[2018.6,-1,1],[2018.7,0.5,1],[2018.8,1,1],[2018.9,-0.5,1],[2019.0,0,1],[2019.2,-1,1],[2019.4,0.5,1],[2019.6,-0.5,1],[2019.8,0,1],[2020.0,-1,1],[2020.2,0.8,.8],[2020.3,0.5,.8],[2020.4,-1,.8]];
const d_J2209_lovell=[[2015.3,2,3],[2015.4,-3,3],[2015.5,0,3],[2015.6,4,3],[2015.7,-2,3],[2015.8,1,3],[2016.0,-4,3],[2016.2,3,3],[2016.4,-1,3],[2016.6,2,3],[2016.8,-3,3],[2017.0,1,3],[2017.2,-2,3],[2017.4,2,3],[2017.6,-1,3],[2017.8,1,3],[2018.0,-1,3],[2018.3,0,2],[2018.6,-1,2],[2018.8,1,2],[2020.0,0,2],[2020.5,1,2],[2020.7,-1,2],[2020.9,-2,2],[2021.0,-4,2],[2021.8,-3,1]];
const d_J2209_core=[[2015.5,0,.5],[2015.65,0.2,.5],[2015.8,-0.2,.5],[2015.95,0.1,.5],[2016.1,0,.5],[2016.25,-0.1,.5],[2016.4,0.2,.5],[2016.55,0,.5],[2016.7,-0.2,.5],[2016.85,0.1,.5],[2017.0,0,.5],[2017.15,0.2,.5],[2017.3,-0.1,.5],[2017.45,0,.5],[2017.6,0.1,.5],[2017.75,-0.2,.5],[2017.9,0,.5],[2018.05,0.1,.5],[2018.2,-0.1,.5],[2018.3,0,.5]];
const d_J2306_lovell=[[2015.2,-0.5,1],[2015.4,0.5,1],[2015.6,-1,1],[2015.8,1,1.5],[2016.0,-0.5,1],[2016.2,0.8,1],[2016.4,-1.2,1],[2016.6,0.5,1],[2016.8,-0.5,1],[2017.0,0.3,1],[2017.5,-0.5,1],[2018.0,0.2,1],[2019.0,-0.5,1],[2019.8,-2,1.5],[2020.0,-0.5,1],[2020.4,1,1.5],[2020.6,0.5,1],[2020.8,3,2],[2021.0,2,1.5],[2021.2,1,1.5],[2021.5,3,1.5]];
const d_J2306_i154=[[2015.0,-0.3,.4],[2015.2,0,.4],[2015.4,-0.2,.4],[2015.6,0.1,.4],[2015.8,-0.1,.4],[2016.0,0.2,.4],[2016.2,0,.4],[2016.4,0.2,.4],[2016.6,-0.1,.4],[2016.8,0.1,.4],[2017.0,0,.4],[2017.2,0.2,.4],[2017.4,0,.4],[2017.6,-0.1,.4],[2017.8,0.1,.4],[2018.0,-0.2,.4],[2018.2,0,.4],[2018.4,-0.2,.4],[2018.6,-0.3,.4],[2018.8,-0.2,.4],[2019.0,-0.4,.4],[2019.2,-0.3,.4],[2019.4,-0.5,.4],[2019.6,-0.4,.4],[2019.8,-0.3,.4],[2020.0,-0.2,.4],[2020.2,0,.4],[2020.4,0.3,.4],[2020.6,0.6,.5],[2020.8,1.2,.5]];
const d_J2306_core=[[2016.0,-0.1,.2],[2016.15,0,.2],[2016.3,0.1,.2],[2016.45,0,.2],[2016.6,-0.1,.2],[2016.75,0,.2],[2016.9,0.1,.2],[2017.05,0,.2],[2017.2,0.1,.2],[2017.35,0,.2],[2017.5,-0.1,.2],[2017.65,0,.2],[2017.8,0.1,.2],[2017.95,-0.1,.2],[2018.1,0,.2],[2018.25,-0.1,.2]];
const d_J2336_core=[[2015.2,-1,1],[2015.3,0.8,.8],[2015.4,-1.5,.8],[2015.5,0.2,.7],[2015.6,-0.8,.7],[2015.7,1.2,.8],[2015.8,-0.3,.7],[2015.9,0.5,.7],[2016.0,-0.5,.7],[2016.1,0.1,.7],[2016.2,-1,.7],[2016.3,0.6,.7],[2016.4,-0.2,.7],[2016.5,0.3,.7],[2016.6,-0.6,.7],[2016.7,1,.7],[2016.8,0,.7],[2016.9,-0.5,.7],[2017.0,0.5,.7],[2017.1,-0.2,.7],[2017.2,0.8,.7],[2017.3,-0.6,.7],[2017.4,0.2,.7],[2017.5,-0.3,.7],[2017.6,0.4,.7],[2017.7,-0.8,.7],[2017.8,0.1,.7],[2017.9,0.3,.7],[2018.0,-0.4,.7],[2018.1,0.2,.7],[2018.2,-0.2,.7],[2018.3,-0.3,.6]];
const d_J2350_core=[[2015.3,-0.2,.1],[2015.5,-0.1,.1],[2015.7,0.3,.1],[2015.9,0,.1],[2016.1,-0.2,.1],[2016.3,0,.1],[2016.5,-0.2,.1],[2016.7,0.1,.1],[2016.9,-0.1,.1],[2017.1,0.2,.1],[2017.3,0,.1],[2017.5,-0.2,.1],[2017.7,0,.1],[2017.9,-0.1,.1],[2018.1,0,.1],[2018.3,0.1,.1]];
const d_J2350_i154=[[2018.0,-0.5,.5],[2018.1,0.5,.7],[2018.15,-1,.8],[2018.2,1,.8],[2018.25,-2,.8],[2018.3,2,1],[2018.35,0,.8],[2018.4,-1,1],[2018.45,1.5,1],[2018.5,0,.8],[2018.55,-0.5,.8],[2018.6,0.5,.7],[2018.7,0,.5],[2018.8,0.3,.5]];

const colors={core:"#000000",i149:"#b2182b",i154:"#c9b83e",i162:"#ef8a62",lovell:"#67a9cf"};
const panelSeries=[
 [[d_J0039_red,"i149"],[d_J0039_core,"core"]],
 [[d_J0059_core,"core"]],
 [[d_J0139_lovell,"lovell"],[d_J0139_core,"core"]],
 [[d_J0305_core,"core"]],
 [[d_J0317_core,"core"]],
 [[d_J0613_lovell,"lovell"],[d_J0613_i162,"i162"],[d_J0613_i149,"i149"],[d_J0613_i154,"i154"],[d_J0613_core,"core"]],
 [[d_J0811_core,"core"]],
 [[d_J0813_core,"core"]],
 [[d_J0828_core,"core"]],
 [[d_J0928_core,"core"]],
 [[d_J0935_i162,"i162"],[d_J0935_core,"core"]],
 [[d_J1303_core,"core"]],
 [[d_J1334_core,"core"]],
 [[d_J1427_core,"core"]],
 [[d_J1529_lovell,"lovell"],[d_J1529_i154,"i154"],[d_J1529_core,"core"]],
 [[d_J1707_core,"core"]],
 [[d_J1715_core,"core"]],
 [[d_J1722_core,"core"]],
 [[d_J1740_lovell,"lovell"],[d_J1740_i154,"i154"],[d_J1740_core,"core"]],
 [[d_J1745_lovell,"lovell"],[d_J1745_core,"core"]],
 [[d_J1809_core,"core"]],
 [[d_J1814_lovell,"lovell"],[d_J1814_i154,"i154"],[d_J1814_core,"core"]],
 [[d_J1910_core,"core"]],
 [[d_J1953_core,"core"]],
 [[d_J1958a_core,"core"]],
 [[d_J1958b_core,"core"]],
 [[d_J2006_core,"core"]],
 [[d_J2022_core,"core"]],
 [[d_J2053_core,"core"]],
 [[d_J2057_core,"core"]],
 [[d_J2123_core,"core"]],
 [[d_J2209_lovell,"lovell"],[d_J2209_core,"core"]],
 [[d_J2306_lovell,"lovell"],[d_J2306_i154,"i154"],[d_J2306_core,"core"]],
 [[d_J2336_core,"core"]],
 [[d_J2350_core,"core"],[d_J2350_i154,"i154"]]
];

const NS="http://www.w3.org/2000/svg";
const svg=document.getElementById("fig");
const colLeft=[65,459,852], axW=320, axH=80, rowTop0=33, rowPitch=127.3;
const xMin=2013, pxPerYear=31.5;
function mk(tag,attrs,parent){const e=document.createElementNS(NS,tag);for(const k in attrs)e.setAttribute(k,attrs[k]);parent.appendChild(e);return e;}

panelNames.forEach((name,p)=>{
  const row=Math.floor(p/3), col=p%3;
  const L=colLeft[col], T=rowTop0+rowPitch*row, B=T+axH;
  const ymin=yMins[p], ymax=yMaxs[p];
  const xs=t=>L+(t-xMin)*pxPerYear;
  const ys=v=>B-(v-ymin)/(ymax-ymin)*axH;
  const g=mk("g",{},svg);
  
  
  const title=mk("text",{x:L+157,y:T-9,"font-size":"17","text-anchor":"middle"},g);
  title.textContent=name;
  
  
  // spines
  const ls=mk("line",{x1:L,y1:T,x2:L,y2:B,stroke:"#000","stroke-width":"1"},g);
  
  
  const bs=mk("line",{x1:L,y1:B,x2:L+axW,y2:B,stroke:"#000","stroke-width":"1"},g);
  
  
  // y ticks
  const tv=yTickVals[p], step=tv[1]-tv[0], minor=step/4;
  for(let v=tv[0]-4*minor; v<=ymax+1e-9; v+=minor){
    if(v<ymin-1e-9) continue;
    const isMaj=tv.some(q=>Math.abs(q-v)<minor*0.01);
    if(isMaj) continue;
    mk("line",{x1:L-2,y1:ys(v),x2:L,y2:ys(v),stroke:"#000","stroke-width":"0.8"},g);
  }
  tv.forEach((v,i)=>{
    mk("line",{x1:L-4,y1:ys(v),x2:L,y2:ys(v),stroke:"#000","stroke-width":"1"},g);
    const tl=mk("text",{x:L-7,y:ys(v)+4.5,"font-size":"13","text-anchor":"end"},g);
    tl.textContent=yTickLabels[p][i];
    
    
  });
  // x ticks
  const showX=(row===11&&col<2)||(row===10&&col===2);
  yearTicks.forEach((yr,i)=>{
    const maj=yearLabels[i]!=="";
    mk("line",{x1:xs(yr),y1:B,x2:xs(yr),y2:B+(maj?4:2.5),stroke:"#000","stroke-width":"1"},g);
    if(showX&&maj){
      const xl=mk("text",{x:xs(yr),y:B+18,"font-size":"13","text-anchor":"middle"},g);
      xl.textContent=yearLabels[i];
      
      
    }
  });
  // series
  panelSeries[p].forEach(([arr,key])=>{
    const sg=mk("g",{fill:colors[key],stroke:colors[key]},g);
    
    
    arr.forEach(([t,v,e])=>{
      mk("line",{x1:xs(t),y1:ys(v-e),x2:xs(t),y2:ys(v+e),"stroke-width":"1.6"},sg);
      const c=mk("circle",{cx:xs(t),cy:ys(v),r:"2.8",stroke:"none"},sg);
      
      
    });
  });
  // scale bar
  const bx=L+310, bt=ys(barHalfVals[p]), bb=ys(-barHalfVals[p]);
  const sb=mk("g",{stroke:"#000","stroke-width":"1.4"},g);
  
  
  mk("line",{x1:bx,y1:bt,x2:bx,y2:bb},sb);
  mk("line",{x1:bx-6,y1:bt,x2:bx+6,y2:bt},sb);
  mk("line",{x1:bx-6,y1:bb,x2:bx+6,y2:bb},sb);
  const lab=mk("text",{x:bx-1,y:bt-5,"font-size":"10","text-anchor":"middle"},g);
  
  
  lab.appendChild(document.createTextNode("10"));
  const sup=mk("tspan",{dy:"-4","font-size":"7.5"},lab);
  sup.textContent=barExps[p];
});
</script>
</body></html>
